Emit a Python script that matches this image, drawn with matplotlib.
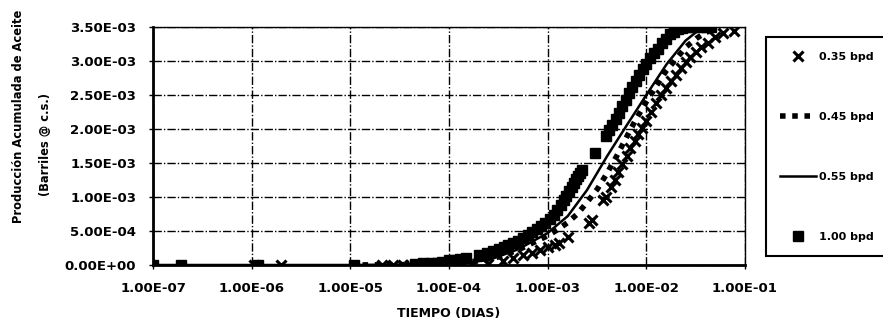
import matplotlib
matplotlib.use('Agg')

import matplotlib.pyplot as plt
from matplotlib.ticker import FixedLocator, FuncFormatter

# Producción acumulada vs tiempo, cuatro gastos de inyección
t_035 = [1.05e-6, 2.0e-6, 2.1e-5, 2.7e-5, 3.4e-5, 4.0e-5, 5.0e-5, 6.5e-5, 8.0e-5, 1.0e-4,
         1.3e-4, 1.7e-4, 2.5e-4, 3.5e-4, 4.5e-4, 5.6e-4, 7.0e-4, 8.3e-4, 1.0e-3, 1.2e-3,
         1.3e-3, 1.6e-3, 2.6e-3, 2.8e-3, 3.6e-3, 3.9e-3, 4.4e-3, 4.8e-3, 5.2e-3, 5.7e-3,
         6.3e-3, 6.9e-3, 7.6e-3, 8.3e-3, 9.1e-3, 1.0e-2, 1.12e-2, 1.26e-2, 1.41e-2, 1.58e-2,
         1.78e-2, 2.0e-2, 2.24e-2, 2.5e-2, 2.8e-2, 3.2e-2, 3.6e-2, 4.2e-2, 5.0e-2, 6.0e-2,
         7.8e-2]
q_035 = [0, 0, 0, 0, 0, 0, 0, 0, 0, 0,
         0, 5e-6, 2e-5, 6e-5, 1.0e-4, 1.4e-4, 1.8e-4, 2.2e-4, 2.6e-4, 3.0e-4,
         3.2e-4, 4.1e-4, 6.2e-4, 6.6e-4, 9.6e-4, 1.0e-3, 1.15e-3, 1.25e-3, 1.37e-3, 1.48e-3,
         1.6e-3, 1.72e-3, 1.83e-3, 1.92e-3, 2.02e-3, 2.12e-3, 2.25e-3, 2.38e-3, 2.5e-3, 2.6e-3,
         2.7e-3, 2.8e-3, 2.89e-3, 2.98e-3, 3.06e-3, 3.13e-3, 3.2e-3, 3.27e-3, 3.35e-3, 3.41e-3,
         3.44e-3]

t_045 = [1.0e-5, 3.2e-5, 1.0e-4, 2.0e-4, 3.2e-4, 4.0e-4, 5.0e-4, 6.3e-4, 7.9e-4, 1.0e-3,
         1.26e-3, 1.58e-3, 2.0e-3, 2.5e-3, 3.2e-3, 4.0e-3, 5.0e-3, 6.3e-3, 7.9e-3, 1.0e-2,
         1.26e-2, 1.58e-2, 2.0e-2, 2.5e-2, 3.2e-2, 4.0e-2, 5.0e-2]
q_045 = [0, 5e-6, 2e-5, 6e-5, 1.2e-4, 1.7e-4, 2.2e-4, 2.9e-4, 3.6e-4, 4.3e-4,
         5.2e-4, 6.2e-4, 7.5e-4, 9.2e-4, 1.12e-3, 1.35e-3, 1.6e-3, 1.88e-3, 2.15e-3, 2.4e-3,
         2.63e-3, 2.85e-3, 3.03e-3, 3.2e-3, 3.33e-3, 3.42e-3, 3.47e-3]

t_055 = [1.0e-7, 1.0e-5, 1.0e-4, 2.5e-4, 5.0e-4, 1.0e-3, 1.6e-3, 2.5e-3, 4.0e-3, 6.3e-3,
         1.0e-2, 1.6e-2, 2.5e-2, 3.5e-2, 5.0e-2]
q_055 = [0, 0, 1.5e-5, 7e-5, 2.3e-4, 4.7e-4, 7.2e-4, 1.1e-3, 1.6e-3, 2.05e-3,
         2.5e-3, 2.95e-3, 3.3e-3, 3.47e-3, 3.5e-3]

t_100 = [1.0e-7, 1.9e-7, 1.15e-6, 1.1e-5, 4.5e-5, 5.5e-5, 6.5e-5, 7.5e-5, 8.5e-5, 1.0e-4,
         1.15e-4, 1.3e-4, 1.5e-4, 2.0e-4, 2.4e-4, 2.8e-4, 3.2e-4, 3.6e-4, 4.0e-4, 4.5e-4,
         5.0e-4, 5.6e-4, 6.3e-4, 7.0e-4, 7.8e-4, 8.6e-4, 9.5e-4, 1.05e-3, 1.15e-3, 1.25e-3,
         1.35e-3, 1.45e-3, 1.55e-3, 1.65e-3, 1.75e-3, 1.85e-3, 1.95e-3, 2.05e-3, 2.15e-3, 2.25e-3,
         3.0e-3, 3.9e-3, 4.2e-3, 4.5e-3, 4.9e-3, 5.3e-3, 5.7e-3, 6.2e-3, 6.7e-3, 7.2e-3,
         7.8e-3, 8.5e-3, 9.2e-3, 1.0e-2, 1.1e-2, 1.2e-2, 1.3e-2, 1.45e-2, 1.6e-2, 1.75e-2,
         1.9e-2, 2.1e-2, 2.3e-2, 2.6e-2, 3.0e-2, 3.5e-2, 4.0e-2, 4.5e-2]
q_100 = [0, 0, 0, 0, 2e-5, 2.5e-5, 3e-5, 3.5e-5, 4e-5, 7e-5,
         8e-5, 9e-5, 1.0e-4, 1.5e-4, 1.7e-4, 2.0e-4, 2.3e-4, 2.6e-4, 2.9e-4, 3.2e-4,
         3.6e-4, 4.0e-4, 4.4e-4, 4.9e-4, 5.3e-4, 5.7e-4, 6.2e-4, 6.7e-4, 7.4e-4, 8.1e-4,
         8.8e-4, 9.5e-4, 1.02e-3, 1.09e-3, 1.15e-3, 1.21e-3, 1.26e-3, 1.31e-3, 1.35e-3, 1.39e-3,
         1.65e-3, 1.9e-3, 1.98e-3, 2.06e-3, 2.15e-3, 2.24e-3, 2.34e-3, 2.43e-3, 2.53e-3, 2.62e-3,
         2.70e-3, 2.80e-3, 2.88e-3, 2.96e-3, 3.04e-3, 3.12e-3, 3.18e-3, 3.26e-3, 3.33e-3, 3.39e-3,
         3.43e-3, 3.47e-3, 3.49e-3, 3.50e-3, 3.50e-3, 3.50e-3, 3.50e-3, 3.50e-3]

x_ticks = [1e-7, 1e-6, 1e-5, 1e-4, 1e-3, 1e-2, 1e-1]
y_ticks = [0, 5e-4, 1e-3, 1.5e-3, 2e-3, 2.5e-3, 3e-3, 3.5e-3]

plt.rcParams['font.family'] = ['DejaVu Sans']
plt.rcParams['font.weight'] = 'bold'

fig = plt.figure(figsize=(8.83, 3.33), dpi=100)
ax = fig.add_axes([0.1733, 0.2042, 0.6704, 0.7147])

ax.plot(t_100, q_100, linestyle='none', marker='s', markersize=7, color='black', label='1.00 bpd', zorder=3)
ax.plot(t_035, q_035, linestyle='none', marker='x', markersize=7, markeredgewidth=2.2, color='black', label='0.35 bpd', zorder=3)
ax.plot(t_045, q_045, linestyle=(0, (1, 1.2)), linewidth=4, color='black', label='0.45 bpd', zorder=3)
ax.plot(t_055, q_055, linestyle='-', linewidth=1.8, color='black', label='0.55 bpd', zorder=4)

ax.set_xscale('log')
ax.set_xlim(1e-7, 1e-1)
ax.set_ylim(0, 3.5e-3)
ax.xaxis.set_major_locator(FixedLocator(x_ticks))
ax.xaxis.set_minor_locator(FixedLocator([]))
ax.xaxis.set_major_formatter(FuncFormatter(lambda v, p: f"{v:.2E}"))
ax.yaxis.set_major_locator(FixedLocator(y_ticks))
ax.yaxis.set_major_formatter(FuncFormatter(lambda v, p: f"{v:.2E}"))
ax.tick_params(labelsize=9.5, length=3, width=1, direction='out')
ax.tick_params(axis='y', pad=9)
ax.tick_params(axis='x', pad=9)

ax.grid(True, color='black', linestyle=(0, (6, 1.5, 1, 1.5)), linewidth=1)
for side in ['left', 'bottom']:
    ax.spines[side].set_linewidth(2)
for side in ['top', 'right']:
    ax.spines[side].set_linewidth(1)

ax.set_xlabel('TIEMPO (DIAS)', fontsize=9, fontweight='bold', labelpad=9)
fig.text(0.021, 0.65, 'Producción Acumulada de Aceite', rotation=90,
         ha='center', va='center', fontsize=8.3, fontweight='bold')
fig.text(0.051, 0.565, '(Barriles @ c.s.)', rotation=90,
         ha='center', va='center', fontsize=8.3, fontweight='bold')

# leyenda en el orden de los gastos
h, l = ax.get_legend_handles_labels()
order = [1, 2, 3, 0]
leg = fig.legend([h[i] for i in order], [l[i] for i in order], loc='upper left',
                 bbox_to_anchor=(0.861, 0.905), fontsize=8, labelspacing=4.5,
                 handlelength=3.2, handletextpad=0.3, borderpad=1.3, fancybox=False,
                 edgecolor='black', framealpha=1)
leg.get_frame().set_linewidth(1.5)

fig.savefig('out.png', dpi=100)
